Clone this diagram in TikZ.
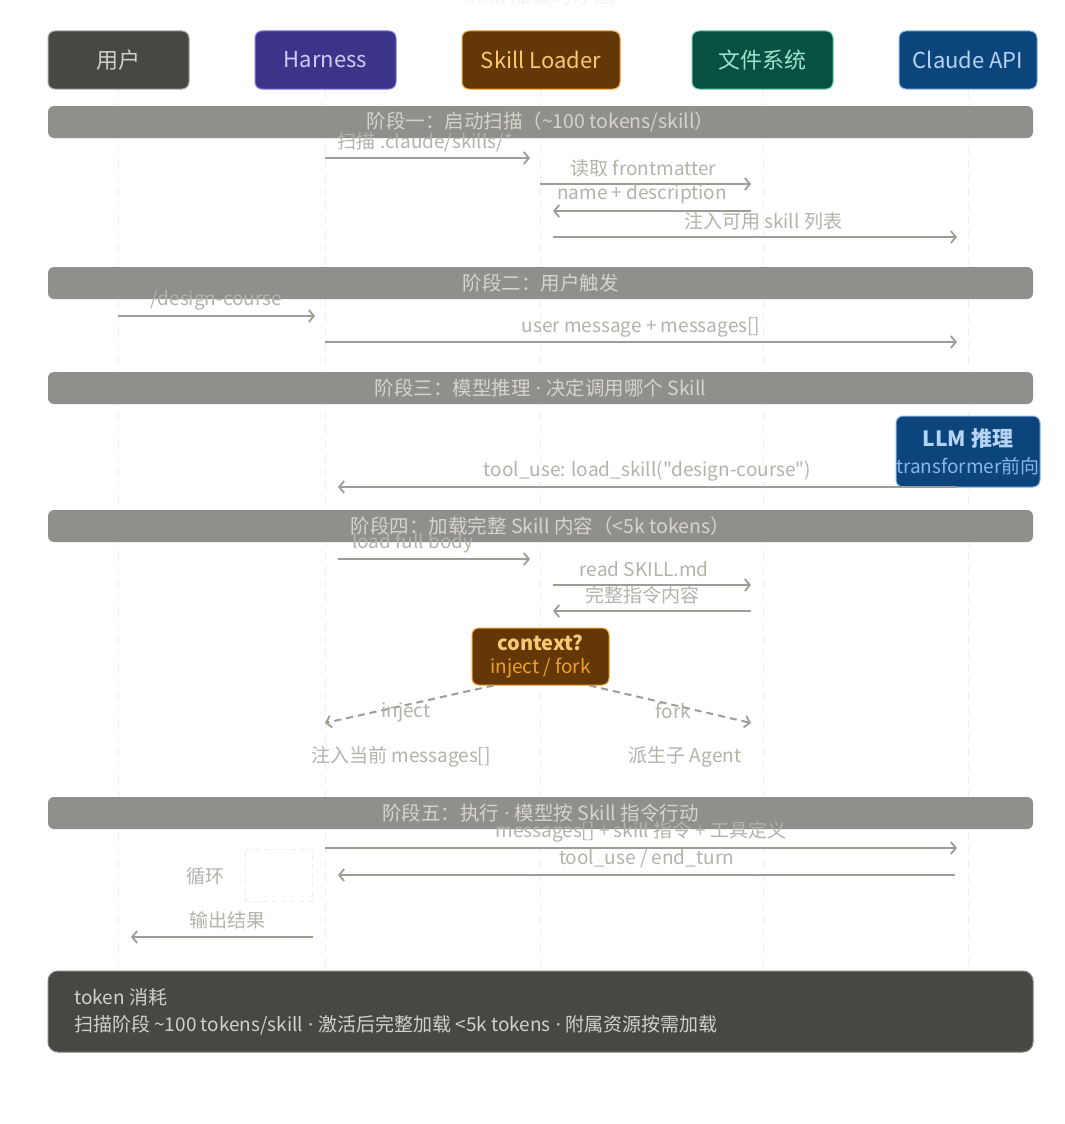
\documentclass[tikz,border=0pt]{standalone}
\usepackage{fontspec}
\setmainfont{Noto Sans CJK SC}[Ligatures=TeXOff]
\newfontfamily\lat{Noto Sans}[Ligatures=TeXOff]
\newcommand\mydot{{\lat\ ·\ }}
\usetikzlibrary{arrows.meta}
\definecolor{linec}{HTML}{9E9C95}
\definecolor{lblc}{HTML}{B4B2A9}
\definecolor{barfill}{HTML}{908F8B}
\definecolor{bartext}{HTML}{D6D4CC}
\definecolor{lifec}{HTML}{EDEDEA}
\definecolor{grayfill}{HTML}{474743}
\definecolor{grayedge}{HTML}{A8A59C}
\definecolor{graytext}{HTML}{D3D1C7}
\definecolor{purfill}{HTML}{3C3489}
\definecolor{puredge}{HTML}{7F77DD}
\definecolor{purtext}{HTML}{CECBF6}
\definecolor{ambfill}{HTML}{633806}
\definecolor{ambedge}{HTML}{EF9F27}
\definecolor{ambtext}{HTML}{FAC775}
\definecolor{teafill}{HTML}{085041}
\definecolor{teaedge}{HTML}{5DCAA5}
\definecolor{teatext}{HTML}{9FE1CB}
\definecolor{bluefill}{HTML}{0C447C}
\definecolor{blueedge}{HTML}{85B7EB}
\definecolor{bluetext}{HTML}{B5D4F4}
\tikzset{
  actor/.style={draw, rounded corners=7pt, line width=1pt, minimum height=58pt, inner sep=0pt, font=\fontsize{22}{26}\selectfont},
  phasebar/.style={fill=barfill, rounded corners=6pt, minimum width=985pt, minimum height=32pt, inner sep=0pt, text=bartext, font=\fontsize{19.5}{22}\selectfont},
  msg/.style={draw=linec, line width=2pt, -{Straight Barb[length=5pt,width=12pt,line width=1.8pt]}},
  dmsg/.style={msg, dash pattern=on 7pt off 5pt},
  lbl/.style={text=lblc, font=\fontsize{19}{22}\selectfont, inner sep=0pt},
  lifeline/.style={draw=lifec, line width=1pt, dash pattern=on 8pt off 6pt},
}
\begin{document}
\begin{tikzpicture}[x=1pt,y=-1pt]
\useasboundingbox[fill=white] (0,0) rectangle (1065,1124);
% title (faint, cut off)
\node[text=lifec!60!white, font=\fontsize{21}{24}\selectfont] (title) at (540,-4) {Skill 加载时序图};
% lifelines
\foreach \n/\x in {lu/118, lh/325, ll/540, lf/763, lc/968}{
  \coordinate (\n t) at (\x,90);
  \coordinate (\n b) at (\x,970);
  \draw[lifeline] (\n t) -- (\n b);
}
% actors
\node[actor, fill=grayfill, draw=grayedge, text=graytext, minimum width=141pt] (user) at (118.5,60) {用户};
\node[actor, fill=purfill, draw=puredge, text=purtext, minimum width=141pt] (harness) at (325.5,60) {Harness};
\node[actor, fill=ambfill, draw=ambedge, text=ambtext, minimum width=158pt] (loader) at (541,60) {Skill Loader};
\node[actor, fill=teafill, draw=teaedge, text=teatext, minimum width=141pt] (fs) at (762.5,60) {文件系统};
\node[actor, fill=bluefill, draw=blueedge, text=bluetext, minimum width=138pt] (api) at (968,60) {Claude API};

% phase bars
\node[phasebar] (p1) at (540.5,122) {阶段一：启动扫描（\textasciitilde100 tokens/skill）};
\node[phasebar] (p2) at (540.5,283) {阶段二：用户触发};
\node[phasebar] (p3) at (540.5,388) {阶段三：模型推理\mydot 决定调用哪个 Skill};
\node[phasebar] (p4) at (540.5,526) {阶段四：加载完整 Skill 内容（<5k tokens）};
\node[phasebar] (p5) at (540.5,813) {阶段五：执行\mydot 模型按 Skill 指令行动};

% phase 1 messages
\coordinate (m1s) at (325,158); \coordinate (m1e) at (530,158);
\coordinate (m2s) at (540,184); \coordinate (m2e) at (751,184);
\coordinate (m3s) at (751,211); \coordinate (m3e) at (553,211);
\coordinate (m4s) at (553,237); \coordinate (m4e) at (957,237);
\draw[msg] (m1s) -- (m1e) node[lbl, pos=0.49, yshift=16pt] (t1) {扫描 .claude/skills/*};
\draw[msg] (m2s) -- (m2e) node[lbl, pos=0.49, yshift=16pt] (t2) {读取 frontmatter};
\draw[msg] (m3s) -- (m3e) node[lbl, pos=0.55, yshift=17pt] (t3) {name + description};
\draw[msg] (m4s) -- (m4e) node[lbl, pos=0.52, yshift=16pt] (t4) {注入可用 skill 列表};

% phase 2
\coordinate (m5s) at (118,316); \coordinate (m5e) at (315,316);
\coordinate (m6s) at (325,342); \coordinate (m6e) at (957,342);
\draw[msg] (m5s) -- (m5e) node[lbl, pos=0.5, yshift=16pt] (t5) {/design-course};
\draw[msg] (m6s) -- (m6e) node[lbl, pos=0.5, yshift=15pt] (t6) {user message + messages[]};

% phase 3
\node[fill=bluefill, draw=blueedge, line width=1pt, rounded corners=7pt, minimum width=144pt, minimum height=71pt, inner sep=0pt, align=center, font=\fontsize{19}{27}\selectfont] (llm) at (968,451.5)
  {{\fontsize{21}{27}\selectfont\bfseries\color{bluetext}LLM 推理}\\{\color{blueedge}transformer前向}};
\coordinate (m7s) at (957,487); \coordinate (m7e) at (338,487);
\draw[msg] (m7s) -- (m7e) node[lbl, pos=0.5, yshift=16pt] (t7) {tool\_use: load\_skill("design-course")};

% phase 4
\coordinate (m8s) at (338,559); \coordinate (m8e) at (530,559);
\coordinate (m9s) at (553,585); \coordinate (m9e) at (751,585);
\coordinate (m10s) at (751,611); \coordinate (m10e) at (553,611);
\draw[msg] (m8s) -- (m8e) node[lbl, pos=0.39, yshift=16pt] (t8) {load full body};
\draw[msg] (m9s) -- (m9e) node[lbl, pos=0.46, yshift=16pt] (t9) {read SKILL.md};
\draw[msg] (m10s) -- (m10e) node[lbl, pos=0.55, yshift=16pt] (t10) {完整指令内容};

\node[fill=ambfill, draw=ambedge, line width=1pt, rounded corners=7pt, minimum width=137pt, minimum height=57pt, inner sep=0pt, align=center, font=\fontsize{19}{23}\selectfont] (ctx) at (540.5,656.5)
  {{\fontsize{20}{23}\selectfont\bfseries\color{ambtext}context?}\\{\color{ambedge}inject / fork}};
\coordinate (inj) at (325,723);
\coordinate (frk) at (751,723);
\coordinate (cs1) at ([xshift=22pt]ctx.south west);
\coordinate (cs2) at ([xshift=-20pt]ctx.south east);
\draw[dmsg] (cs1) -- (inj) node[lbl, pos=0.52, yshift=-7pt] (t11) {inject};
\draw[dmsg] (cs2) -- (frk) node[lbl, pos=0.52, yshift=-6pt] (t12) {fork};
\node[lbl] (res1) at (401,757) {注入当前 messages[]};
\node[lbl] (res2) at (685,757) {派生子 Agent};

% phase 5
\node[draw=lifec, line width=1pt, dash pattern=on 5pt off 4pt, minimum width=67pt, minimum height=52pt, inner sep=0pt] (loopbox) at (278.5,875) {};
\node[lbl] (loopl) at (205,876) {循环};
\coordinate (m11s) at (325,848); \coordinate (m11e) at (957,848);
\coordinate (m12s) at (955,875); \coordinate (m12e) at (338,875);
\coordinate (m13s) at (313,937); \coordinate (m13e) at (131,937);
\draw[msg] (m11s) -- (m11e) node[lbl, pos=0.5, yshift=16pt] (t13) {messages[] + skill 指令 + 工具定义};
\draw[msg] (m12s) -- (m12e) node[lbl, pos=0.5, yshift=16pt] (t14) {tool\_use / end\_turn};
\draw[msg] (m13s) -- (m13e) node[lbl, pos=0.47, yshift=17pt] (t15) {输出结果};

% footer
\node[fill=grayfill, draw=grayedge!60!grayfill, line width=1pt, rounded corners=10pt, minimum width=985pt, minimum height=81pt, inner sep=0pt] (foot) at (540.5,1011.5) {};
\node[text=graytext, font=\fontsize{19}{22}\selectfont, anchor=west, inner sep=0pt] (f1) at (74,997) {token 消耗};
\node[text=graytext, font=\fontsize{19}{22}\selectfont, anchor=west, inner sep=0pt] (f2) at (74,1025) {扫描阶段 \textasciitilde100 tokens/skill\mydot 激活后完整加载 <5k tokens\mydot 附属资源按需加载};
\end{tikzpicture}
\end{document}
